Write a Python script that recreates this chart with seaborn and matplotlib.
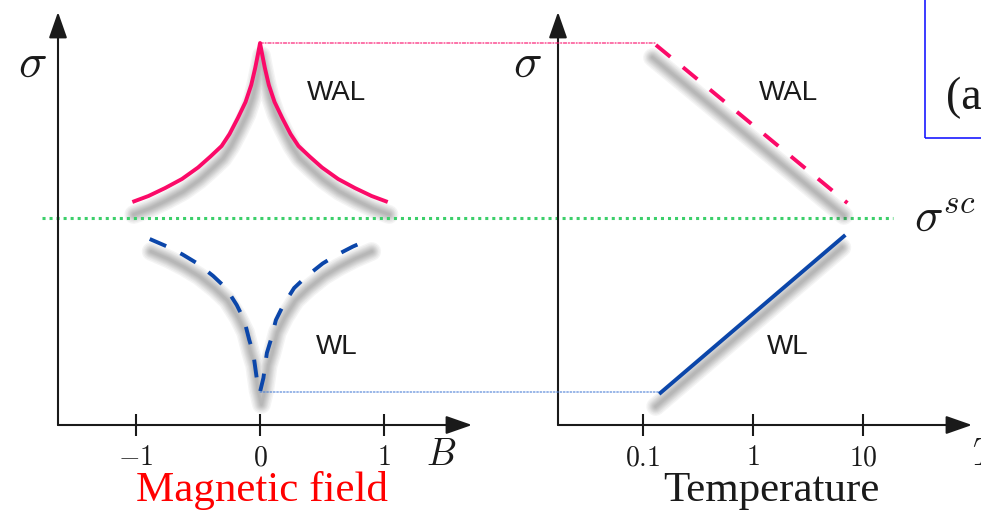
# -*- coding: utf-8 -*-

import seaborn as sns
import matplotlib.pyplot as plt
import matplotlib.transforms as mtransforms
from matplotlib.patches import ConnectionPatch, Rectangle

# left panel: sigma vs magnetic field B
B_WAL = [-1.03, -0.9, -0.765, -0.63, -0.5, -0.4, -0.31, -0.246, -0.179, -0.117,
         -0.071, -0.039, -0.018, 0.0,
         0.018, 0.039, 0.071, 0.117, 0.179, 0.246, 0.31, 0.4, 0.5,
         0.63, 0.765, 0.9, 1.03]
SIG_WAL_B = [2.23, 2.29, 2.37, 2.46, 2.575, 2.685, 2.79, 2.91, 3.07, 3.23,
             3.40, 3.57, 3.70, 3.82,
             3.70, 3.57, 3.40, 3.23, 3.07, 2.91, 2.79, 2.685, 2.575,
             2.46, 2.37, 2.29, 2.23]
B_WL = [-0.89, -0.75, -0.625, -0.505, -0.378, -0.275, -0.188, -0.128, -0.087,
        -0.055, -0.027, 0.0,
        0.027, 0.055, 0.087, 0.128, 0.188, 0.275, 0.378, 0.505, 0.625, 0.75, 0.89]
SIG_WL_B = [1.86, 1.785, 1.705, 1.615, 1.49, 1.37, 1.20, 1.05, 0.85,
            0.72, 0.47, 0.33,
            0.47, 0.72, 0.85, 1.05, 1.20, 1.37, 1.49, 1.615, 1.705, 1.785, 1.86]

# right panel: sigma vs temperature (log)
T_WAL = [0.131, 7.2]
SIG_WAL_T = [3.80, 2.22]
T_WL = [0.14, 6.9]
SIG_WL_T = [0.31, 1.90]

SIGMA_SC = 2.07

B_TICKS = [-1, 0, 1]
B_TICK_LABELS = [r"$-1$", r"$0$", r"$1$"]
T_TICKS = [0.1, 1, 10]
T_TICK_LABELS = [r"$0.1$", r"$1$", r"$10$"]

PINK = "#fb0a68"
BLUE = "#0b46aa"
GREEN = "#3ccf6a"

sns.set_theme(style="white")
plt.rcParams["mathtext.fontset"] = "cm"
plt.rcParams["font.family"] = ["DejaVu Sans"]
plt.rcParams["text.color"] = "k"
plt.rcParams["xtick.color"] = "k"
plt.rcParams["xtick.labelcolor"] = "k"

W, H = 981, 517
fig = plt.figure(figsize=(W / 100, H / 100), dpi=100)


def px(x, y):
    return x / W, 1 - y / H


ax1 = fig.add_axes([58 / W, 1 - 425 / H, 414 / W, 413 / H])
ax2 = fig.add_axes([558 / W, 1 - 425 / H, 414 / W, 413 / H])


def shadow(ax, x, y, dx):
    # soft grey drop shadow, shifted down
    tr = mtransforms.offset_copy(ax.transData, fig=fig, x=dx, y=-9.0, units="points")
    for lw in [13.5, 11.5, 9.5, 8, 6.5, 5, 3.5, 2]:
        ax.plot(x, y, color="0.25", lw=lw, alpha=0.055, transform=tr,
                solid_capstyle="round", solid_joinstyle="round", zorder=1)


for ax in (ax1, ax2):
    ax.set_facecolor("none")
    for s in ax.spines.values():
        s.set_visible(False)
    ax.set_ylim(0, 4.13)
    ax.set_yticks([])
    ax.annotate("", xy=(0, 1), xytext=(0, 0), xycoords="axes fraction",
                arrowprops=dict(arrowstyle="-|>,head_length=0.8,head_width=0.28",
                                mutation_scale=20, lw=1.5, color="k",
                                shrinkA=0, shrinkB=0))
    ax.annotate("", xy=(1, 0), xytext=(0, 0), xycoords="axes fraction",
                arrowprops=dict(arrowstyle="-|>,head_length=0.8,head_width=0.28",
                                mutation_scale=20, lw=1.5, color="k",
                                shrinkA=0, shrinkB=0))
    ax.tick_params(axis="x", direction="inout", length=16, width=1.5,
                   color="k", labelcolor="k", pad=5, labelsize=20, bottom=True)

# left panel
ax1.set_xlim(-1.63, 1.71)
shadow(ax1, B_WAL, SIG_WAL_B, 1.0)
shadow(ax1, B_WL, SIG_WL_B, 1.0)
sns.lineplot(x=B_WAL, y=SIG_WAL_B, ax=ax1, color=PINK, lw=2.8, sort=False,
             solid_capstyle="butt", zorder=3)
sns.lineplot(x=B_WL, y=SIG_WL_B, ax=ax1, color=BLUE, lw=2.8, sort=False,
             linestyle=(0, (4.6, 4.1)), zorder=3)
ax1.set_xticks(B_TICKS)
ax1.set_xticklabels(B_TICK_LABELS)
ax1.set_xlabel("")
ax1.set_ylabel("")
ax1.text(0.62, 3.32, "WAL", ha="center", va="center", fontsize=20,
         family="Liberation Sans")
ax1.text(0.62, 0.78, "WL", ha="center", va="center", fontsize=20,
         family="Liberation Sans")

# right panel
ax2.set_xscale("log")
ax2.set_xlim(10 ** -1.773, 10 ** 1.99)
shadow(ax2, T_WAL, SIG_WAL_T, -2.5)
shadow(ax2, T_WL, SIG_WL_T, -2.5)
sns.lineplot(x=T_WAL, y=SIG_WAL_T, ax=ax2, color=PINK, lw=2.8,
             linestyle=(0, (4.8, 4.2)), zorder=3)
sns.lineplot(x=T_WL, y=SIG_WL_T, ax=ax2, color=BLUE, lw=2.8,
             solid_capstyle="butt", zorder=3)
ax2.set_xticks(T_TICKS)
ax2.set_xticklabels(T_TICK_LABELS)
ax2.minorticks_off()
ax2.set_xlabel("")
ax2.set_ylabel("")
ax2.text(2.08, 3.32, "WAL", ha="center", va="center", fontsize=20,
         family="Liberation Sans")
ax2.text(2.08, 0.78, "WL", ha="center", va="center", fontsize=20,
         family="Liberation Sans")

# guide lines joining the two panels
peak = max(SIG_WAL_B)
low = min(SIG_WL_B)
fig.add_artist(ConnectionPatch((0, peak), (T_WAL[0], peak), "data", "data",
                               axesA=ax1, axesB=ax2, color=PINK, lw=0.8,
                               linestyle=(0, (3, 1.5, 1, 1.5)), zorder=2))
fig.add_artist(ConnectionPatch((0, low), (T_WL[0], low), "data", "data",
                               axesA=ax1, axesB=ax2, color="#4a7fd6", lw=0.8,
                               linestyle=(0, (1.5, 1.5)), zorder=2))
tr_sc = mtransforms.blended_transform_factory(fig.transFigure, ax1.transData)
ax1.plot([42 / W, 893 / W], [SIGMA_SC, SIGMA_SC], transform=tr_sc, clip_on=False,
         color=GREEN, lw=2.2, linestyle=(0, (1, 1.3)), dash_capstyle="butt", zorder=2)

# labels
fig.text(*px(32, 64), r"$\sigma$", fontsize=34, ha="center", va="center")
fig.text(*px(527, 64), r"$\sigma$", fontsize=34, ha="center", va="center")
fig.text(*px(914, 218), r"$\sigma^{sc}$", fontsize=34, ha="left", va="center")
fig.text(*px(441, 455), r"$B$", fontsize=27, ha="center", va="center")
fig.text(*px(972, 455), r"$T$", fontsize=27, ha="left", va="center")
fig.text(*px(262, 491), "Magnetic field", fontsize=31, color="#ff0000",
         ha="center", va="center", family="Liberation Serif")
fig.text(*px(771, 491), "Temperature", fontsize=31, color="k",
         ha="center", va="center", family="Liberation Serif")

fig.add_artist(Rectangle(px(925, 138), 80 / W, 160 / H, transform=fig.transFigure,
                         fill=False, edgecolor="#1a1aff", lw=1.2))
fig.text(*px(946, 98), "(a)", fontsize=33, ha="left", va="center",
         family="Liberation Serif")

fig.savefig("out.png", dpi=100)
